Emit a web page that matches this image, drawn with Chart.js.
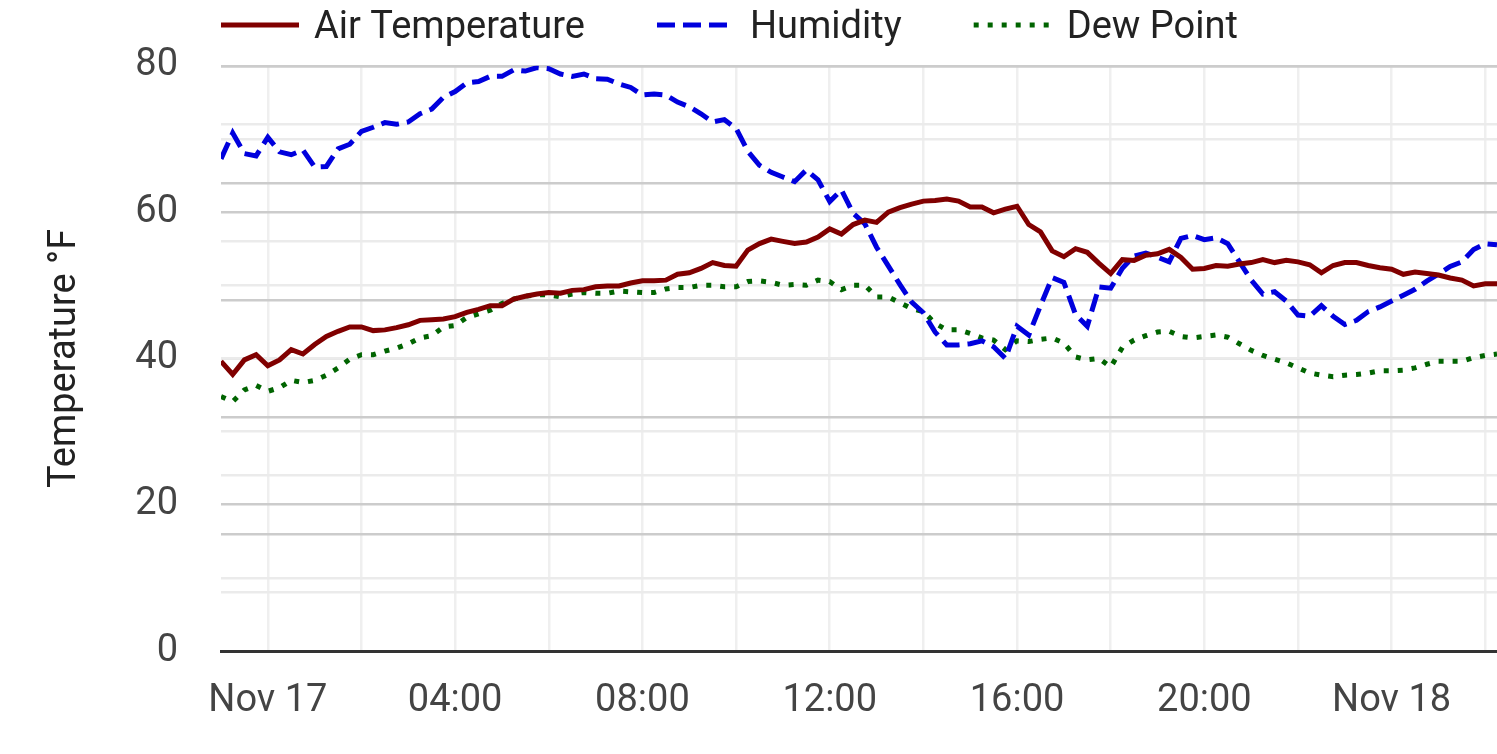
<!DOCTYPE html>
<html>
<head>
<meta charset="utf-8">
<script src="https://cdn.jsdelivr.net/npm/chart.js@4"></script>
<style>
  html, body { margin: 0; padding: 0; background: #fff; }
  #wrap { width: 1497px; height: 754px; position: relative; }
</style>
</head>
<body>
<div id="wrap"><canvas id="weatherChart"></canvas></div>
<script>
// ---- data : one reading every 15 min, starting Nov 16 23:00 ----
const startHour = -1;      // hours relative to Nov 17 00:00
const stepHours = 0.25;

const airTemp = [
  39.6, 37.8, 39.8, 40.5, 39.0, 39.8, 41.2, 40.6, 41.9, 43.0,
  43.7, 44.3, 44.3, 43.8, 43.9, 44.2, 44.6, 45.2, 45.3, 45.4,
  45.7, 46.3, 46.7, 47.2, 47.2, 48.1, 48.5, 48.8, 49.0, 48.9,
  49.3, 49.4, 49.8, 49.9, 49.9, 50.3, 50.6, 50.6, 50.7, 51.5,
  51.7, 52.3, 53.1, 52.7, 52.6, 54.8, 55.7, 56.3, 56.0, 55.7,
  55.9, 56.6, 57.7, 57.0, 58.3, 58.9, 58.6, 60.0, 60.6, 61.1,
  61.5, 61.6, 61.8, 61.5, 60.7, 60.7, 59.9, 60.4, 60.8, 58.3,
  57.3, 54.7, 53.9, 55.0, 54.5, 53.0, 51.6, 53.5, 53.4, 54.1,
  54.3, 54.9, 53.8, 52.2, 52.3, 52.7, 52.6, 52.9, 53.1, 53.5,
  53.1, 53.4, 53.2, 52.8, 51.7, 52.7, 53.1, 53.1, 52.7, 52.4,
  52.2, 51.5, 51.8, 51.6, 51.4, 51.0, 50.7, 49.9, 50.2, 50.2
];

const humidity = [
  84.1, 88.5, 85.0, 84.6, 87.8, 85.3, 84.8, 85.6, 82.7, 82.8,
  85.8, 86.6, 88.8, 89.5, 90.3, 90.0, 90.4, 91.8, 92.6, 94.6,
  95.6, 97.1, 97.3, 98.2, 98.2, 99.3, 99.1, 99.7, 99.5, 98.6,
  98.2, 98.6, 97.8, 97.7, 96.9, 96.3, 95.0, 95.2, 95.0, 93.8,
  93.0, 91.8, 90.4, 90.8, 89.3, 85.4, 83.0, 81.8, 81.0, 80.2,
  82.2, 80.5, 76.8, 78.8, 74.8, 73.0, 69.0, 65.8, 62.6, 59.6,
  57.8, 54.5, 52.3, 52.3, 52.5, 53.0, 52.0, 50.0, 55.5, 54.0,
  59.0, 63.8, 63.0, 57.5, 55.5, 62.2, 62.0, 65.4, 67.5, 68.0,
  67.3, 66.5, 70.5, 71.0, 70.3, 70.6, 69.6, 66.5, 63.4, 61.0,
  61.4, 59.8, 57.4, 57.2, 59.0, 57.2, 55.8, 56.5, 58.0, 58.8,
  59.8, 60.8, 61.8, 63.2, 64.4, 65.7, 66.5, 68.6, 69.6, 69.4
];

const dewPoint = [
  34.8, 34.1, 35.7, 36.3, 35.5, 36.0, 37.0, 36.7, 37.0, 37.7,
  38.7, 39.9, 40.5, 40.5, 41.0, 41.4, 42.0, 42.8, 43.1, 44.3,
  44.5, 45.6, 46.1, 46.6, 47.5, 48.1, 48.5, 48.7, 48.7, 48.4,
  48.8, 49.0, 48.9, 48.9, 49.2, 49.1, 49.0, 49.0, 49.5, 49.7,
  49.7, 50.0, 50.0, 49.8, 49.8, 50.5, 50.6, 50.4, 50.0, 50.1,
  50.0, 50.7, 50.5, 49.4, 50.0, 50.0, 48.4, 48.4, 47.6, 46.8,
  46.4, 44.8, 43.9, 43.9, 43.4, 42.8, 42.5, 41.2, 42.4, 42.3,
  42.6, 42.8, 42.1, 40.2, 39.8, 40.0, 38.8, 41.5, 42.5, 43.1,
  43.6, 43.7, 43.0, 42.8, 43.0, 43.2, 42.9, 42.0, 41.1, 40.4,
  39.9, 39.4, 38.7, 38.0, 37.7, 37.5, 37.7, 37.8, 38.0, 38.3,
  38.3, 38.4, 38.7, 39.2, 39.6, 39.6, 39.6, 40.1, 40.4, 40.6
];

// x tick labels (hours since Nov 17 00:00)
const tickHours  = [0, 4, 8, 12, 16, 20, 24];
const tickLabels = ['Nov 17', '04:00', '08:00', '12:00', '16:00', '20:00', 'Nov 18'];
// vertical grid every 2 hours
const gridHours  = [0, 2, 4, 6, 8, 10, 12, 14, 16, 18, 20, 22, 24, 26];

const hours = airTemp.map((_, i) => startHour + i * stepHours);

const FONT = 'Roboto, "Noto Sans", sans-serif';

// ---- legend drawn on top, starting at the chart area left ----
const topLegend = {
    id: 'topLegend',
    afterDraw(chart) {
        const ctx = chart.ctx;
        let x = chart.chartArea.left;
        const y = 25;
        ctx.save();
        ctx.font = '38px ' + FONT;
        ctx.textBaseline = 'middle';
        chart.data.datasets.forEach(ds => {
            ctx.beginPath();
            ctx.setLineDash(ds.borderDash || []);
            ctx.lineWidth = ds.borderWidth;
            ctx.strokeStyle = ds.borderColor;
            ctx.moveTo(x, y);
            ctx.lineTo(x + 78, y);
            ctx.stroke();
            ctx.setLineDash([]);
            ctx.fillStyle = '#222';
            ctx.fillText(ds.label, x + 93, y + 3);
            x += 93 + ctx.measureText(ds.label).width + 72;
        });
        ctx.restore();
    }
};

const gridCol = (step) => (c) => (c.tick.value % step === 0 ? '#cccccc' : '#ebebeb');

new Chart(document.getElementById('weatherChart').getContext('2d'), {
    type: 'line',
    data: {
        labels: hours,
        datasets: [
            {
                label: 'Air Temperature',
                data: airTemp,
                yAxisID: 'y',
                borderColor: '#800000',
                borderWidth: 5,
                pointRadius: 0,
                tension: 0
            },
            {
                label: 'Humidity',
                data: humidity,
                yAxisID: 'y1',
                borderColor: '#0000dd',
                borderWidth: 5,
                borderDash: [18, 8],
                pointRadius: 0,
                tension: 0
            },
            {
                label: 'Dew Point',
                data: dewPoint,
                yAxisID: 'y',
                borderColor: '#006400',
                borderWidth: 5,
                borderDash: [5, 9],
                pointRadius: 0,
                tension: 0
            }
        ]
    },
    options: {
        responsive: true,
        maintainAspectRatio: false,
        animation: false,
        devicePixelRatio: 1,
        layout: { padding: { top: 60, left: 0, right: 0, bottom: 0 } },
        plugins: { legend: { display: false }, tooltip: { enabled: false } },
        scales: {
            x: {
                type: 'linear',
                min: -1,
                max: 26.25,
                afterBuildTicks: s => { s.ticks = gridHours.map(v => ({ value: v })); },
                afterFit: s => { s.height = 103; s.paddingLeft = 0; s.paddingRight = 0; },
                border: { display: true, color: '#333', width: 3 },
                grid: { drawTicks: false, lineWidth: 2.5, color: '#efefef' },
                ticks: {
                    autoSkip: false,
                    maxRotation: 0,
                    padding: 28,
                    color: '#444',
                    font: { family: FONT, size: 38 },
                    callback: v => {
                        const i = tickHours.indexOf(v);
                        return i >= 0 ? tickLabels[i] : '';
                    }
                }
            },
            y: {
                position: 'left',
                min: 0,
                max: 80,
                afterFit: s => { s.width = 221; },
                border: { display: false },
                grid: { drawTicks: false, lineWidth: 2.5, color: gridCol(20) },
                ticks: {
                    stepSize: 10,
                    padding: 43,
                    color: '#444',
                    font: { family: FONT, size: 38 },
                    callback: v => (v % 20 === 0 ? v : '')
                },
                title: {
                    display: true,
                    text: 'Temperature °F',
                    color: '#222',
                    font: { family: FONT, size: 38 },
                    padding: { top: 43, bottom: 0 }
                }
            },
            y1: {
                position: 'right',
                min: 0,
                max: 100,
                afterFit: s => { s.width = 0; s.paddingTop = 0; s.paddingBottom = 0; },
                border: { display: false },
                grid: { drawTicks: false, lineWidth: 2.5, color: gridCol(20) },
                ticks: { display: false, stepSize: 10 }
            }
        }
    },
    plugins: [topLegend]
});
</script>
</body>
</html>
